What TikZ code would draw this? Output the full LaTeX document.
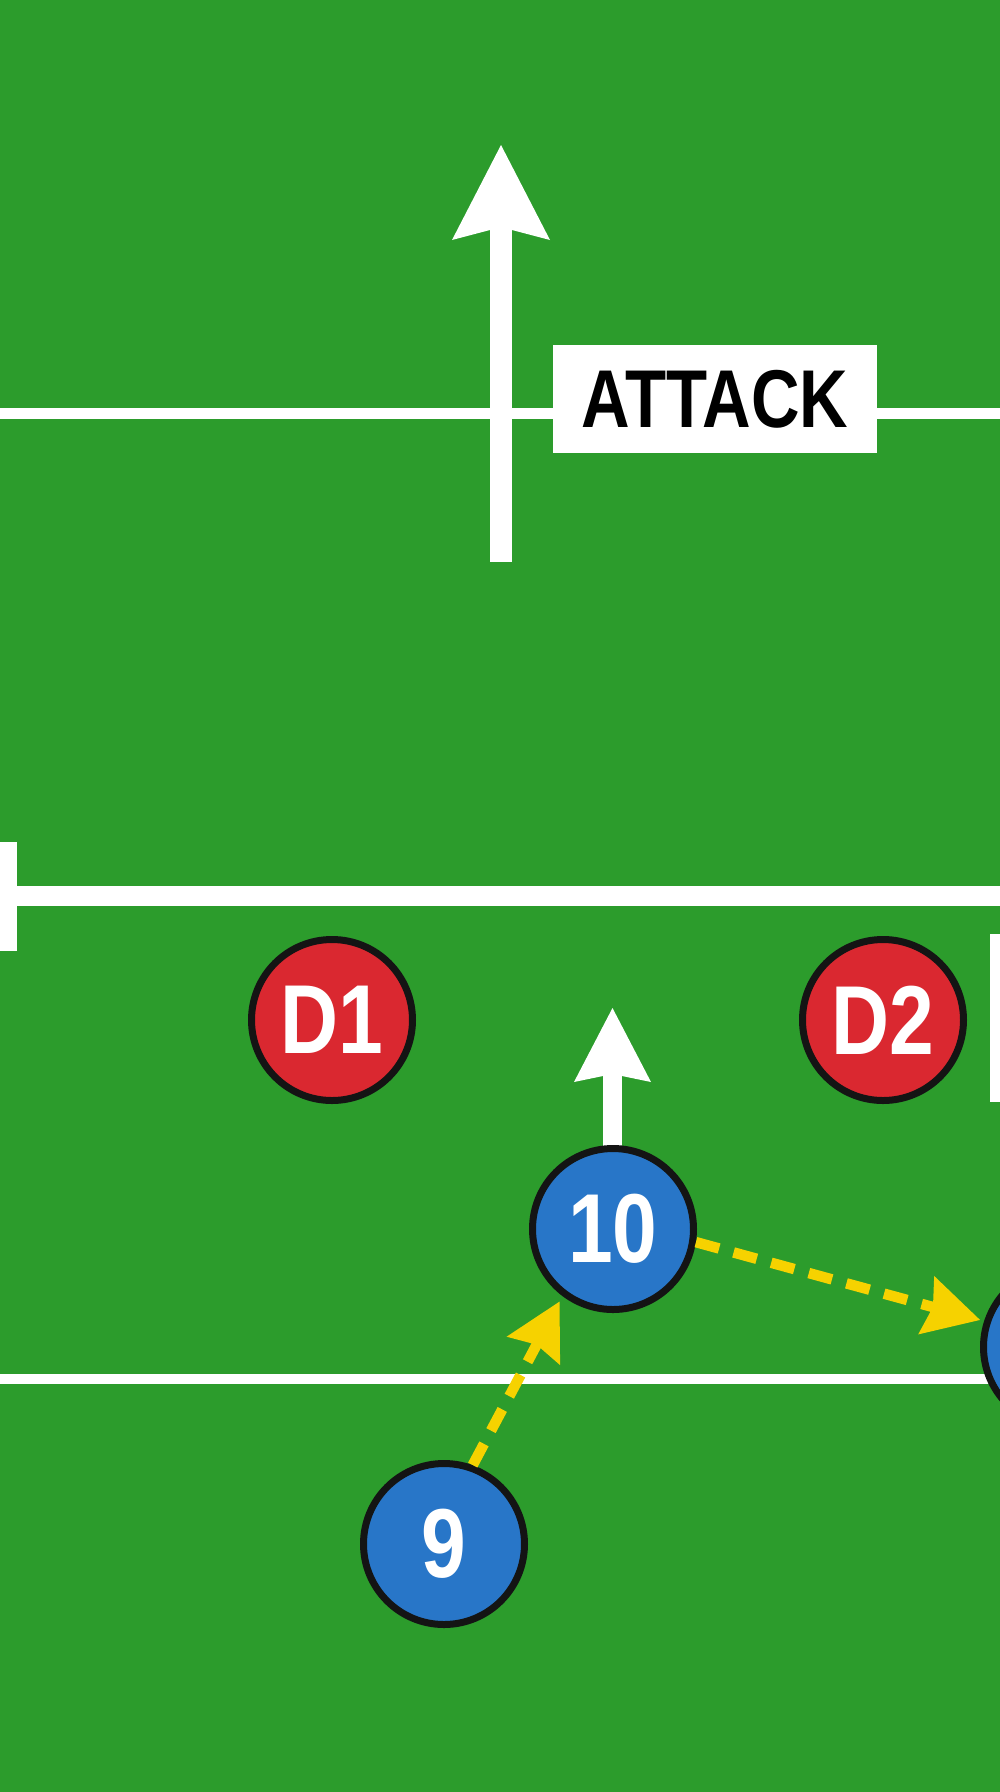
\documentclass[tikz,border=0pt]{standalone}
\usepackage{fontspec}
\newfontfamily\labfont[FakeStretch=0.82]{Liberation Sans}
\newfontfamily\attfont[FakeStretch=0.82]{Liberation Sans}
\usetikzlibrary{arrows.meta}
\definecolor{pitch}{RGB}{44,156,44}
\definecolor{defred}{RGB}{218,40,48}
\definecolor{attblue}{RGB}{40,118,200}
\definecolor{passyel}{RGB}{246,210,0}
\definecolor{outl}{RGB}{20,20,20}
\begin{document}
\begin{tikzpicture}[x=1pt,y=-1pt,
  player/.style={circle, draw=outl, line width=7pt, minimum size=161pt, inner sep=0pt,
    text=white, font=\labfont\bfseries\fontsize{98}{98}\selectfont},
  defender/.style={player, fill=defred},
  attacker/.style={player, fill=attblue},
  pass/.style={draw=passyel, line width=10.5pt, dash pattern=on 24pt off 15pt,
    -{Stealth[length=55pt,width=58pt,inset=6pt]}},
  whitefill/.style={fill=white, draw=none}
]
\useasboundingbox (0,0) rectangle (1000,1792);
\clip (0,0) rectangle (1000,1792);
\fill[pitch] (0,0) rectangle (1000,1792);

% field lines
\fill[white] (0,407.5) rectangle (1000,418.5);
\fill[white] (0,886) rectangle (1000,906);
\fill[white] (0,842) rectangle (17,951);
\fill[white] (990,934) rectangle (1004,1102);
\fill[white] (0,1374) rectangle (1000,1384);

% ATTACK label
\node[whitefill, minimum width=324pt, minimum height=108pt, inner sep=0pt,
  font=\attfont\bfseries\fontsize{82}{82}\selectfont, text=black]
  (attack) at (715,399) {ATTACK};

% big attack arrow
\coordinate (atail) at (501,562);
\coordinate (abase) at (501,230);
\fill[white] (490,230) rectangle (512,562);
\fill[white] (501,145) -- (550,240) -- (512,230) -- (490,230) -- (452,240) -- cycle;

% players
\node[defender] (d1) at (332,1020) {D1};
\node[defender] (d2) at (883,1020) {D2};

% run arrow of 10 (drawn beneath the player)
\coordinate (up10) at (612.5,1076);
\fill[white] (603,1076) rectangle (622,1160);
\fill[white] (612.5,1008) -- (651,1082) -- (622,1076) -- (603,1076) -- (574,1082) -- cycle;

\node[attacker] (n10) at (613,1229) {10};
\node[attacker] (n9) at (444,1544) {9};
\node[attacker] (n12) at (1064,1347) {};

% passes
\draw[pass, shorten >=6pt] (n9.70) -- (n10.233);
\draw[pass, shorten >=4pt] (n10.351) -- (n12.162);
\end{tikzpicture}
\end{document}
